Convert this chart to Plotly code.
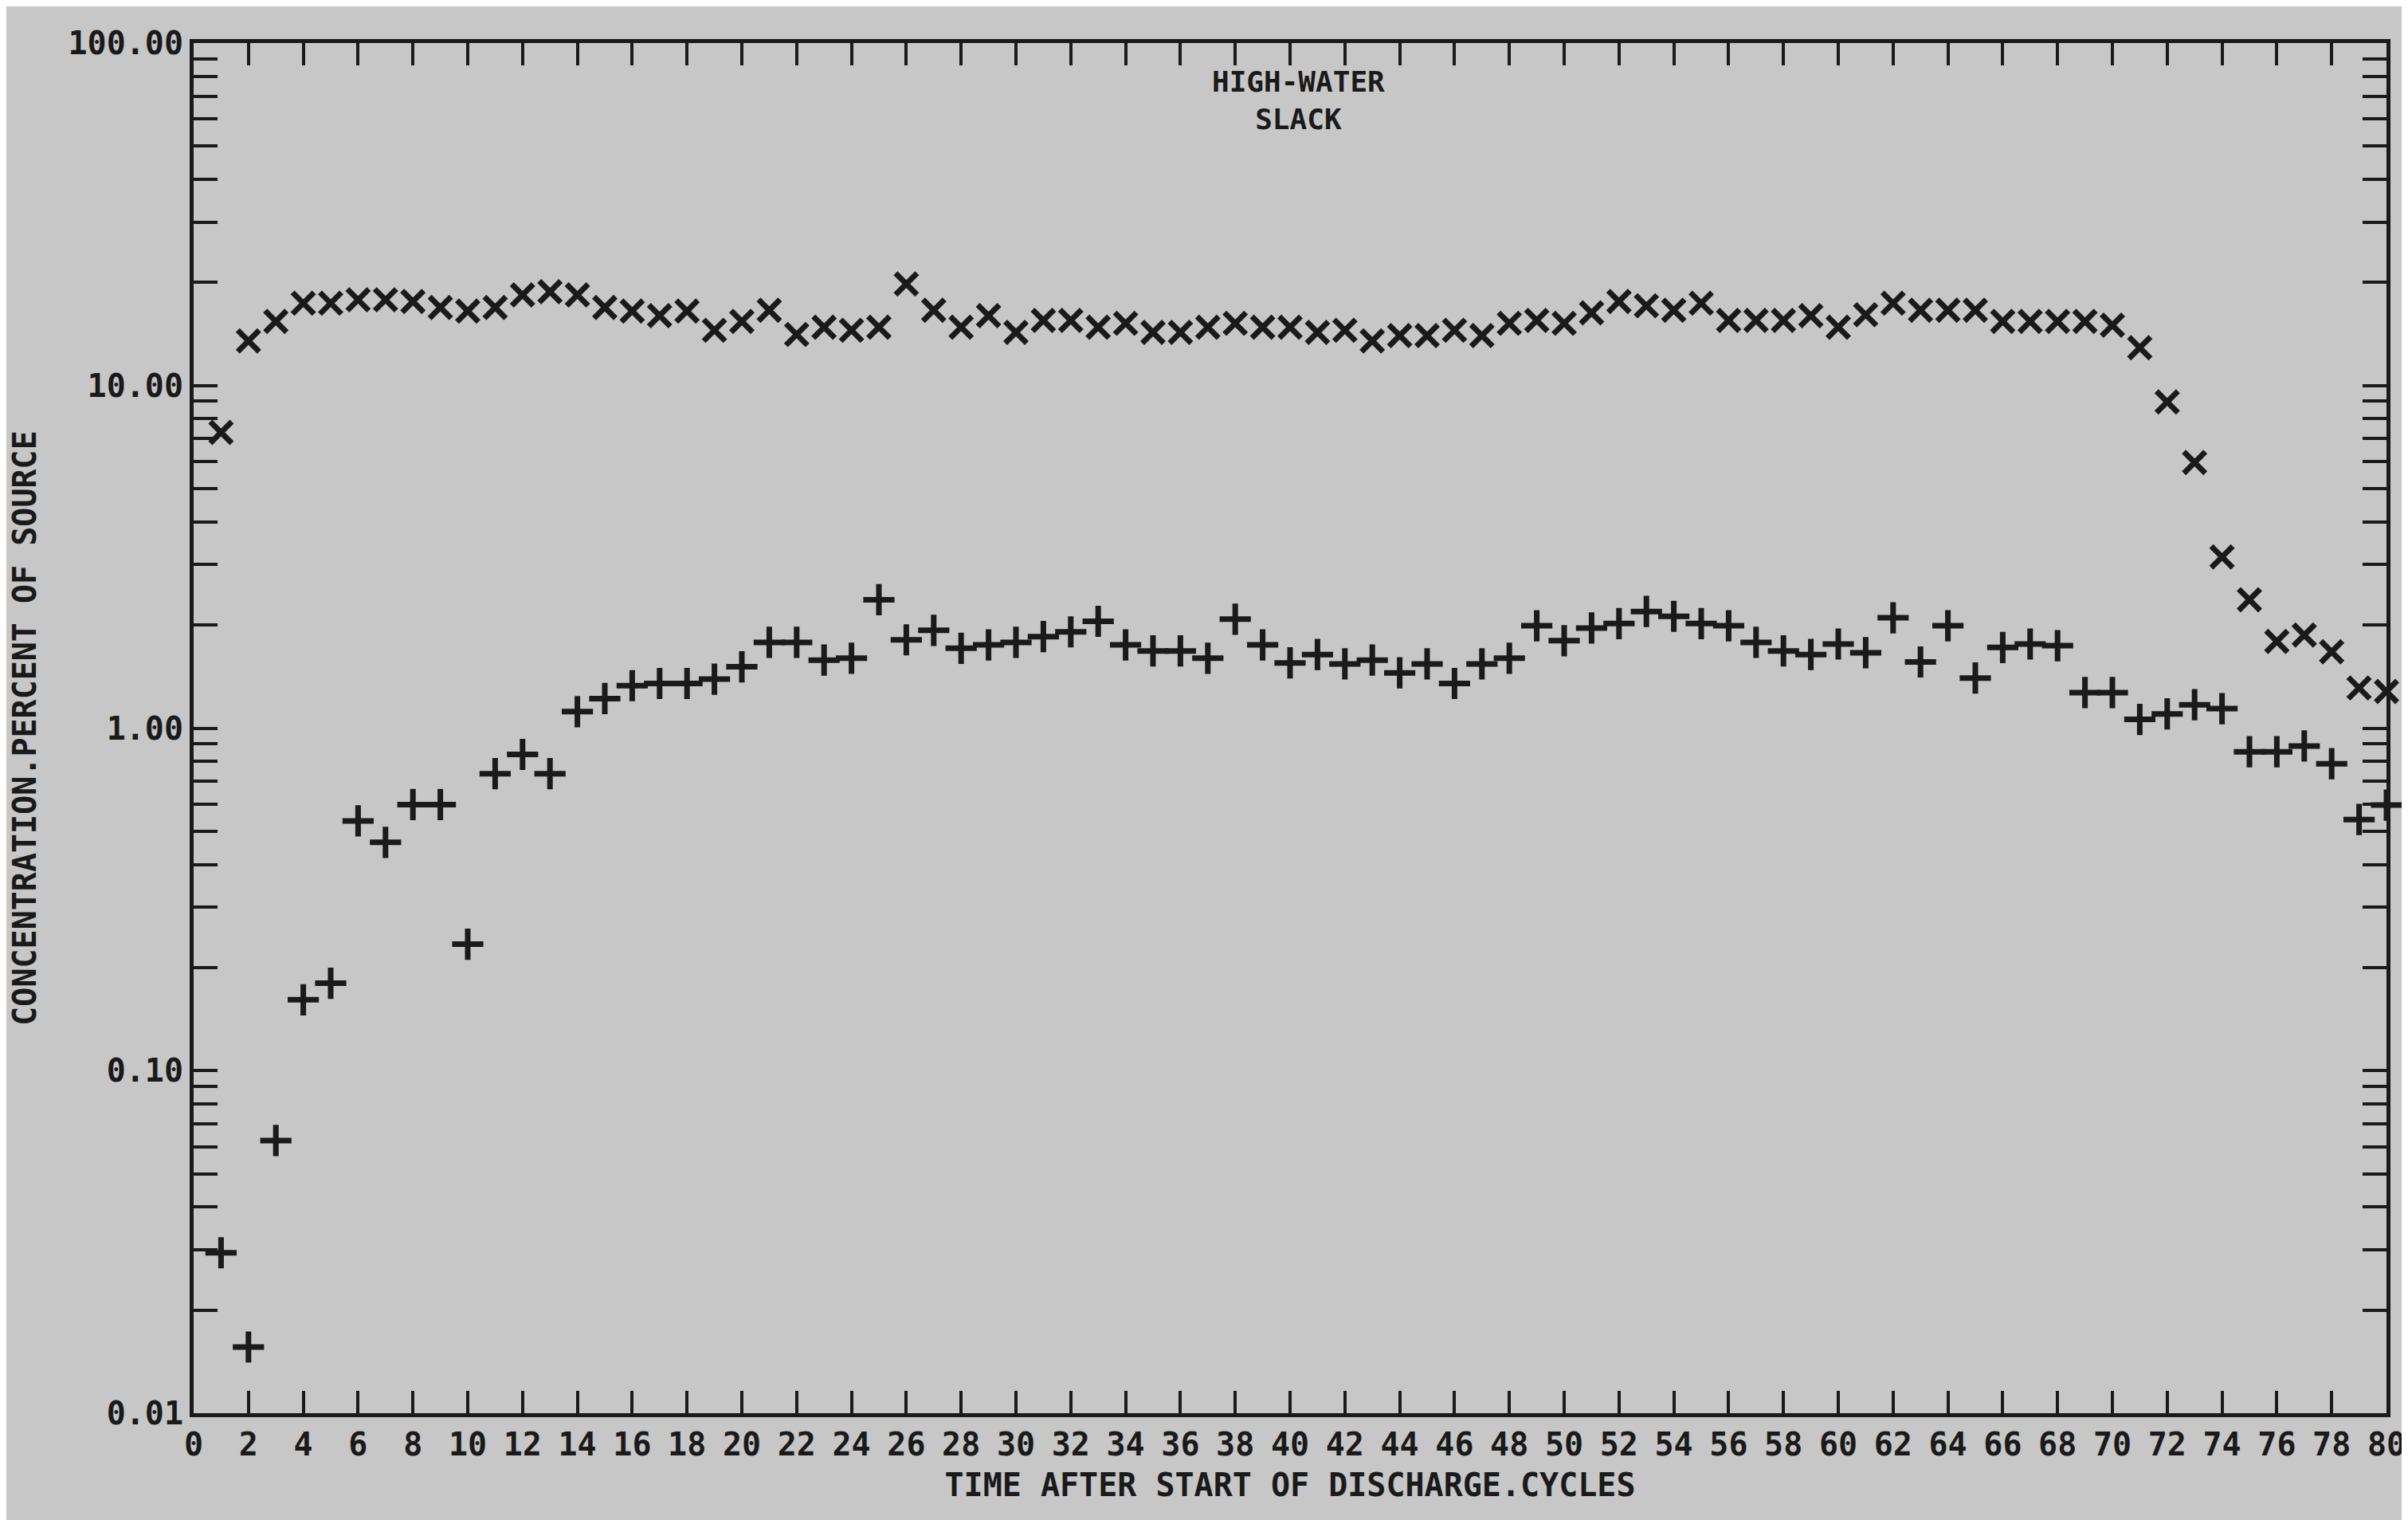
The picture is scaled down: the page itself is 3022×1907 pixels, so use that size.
import plotly.graph_objects as go

# cycle number after start of discharge
cycles = list(range(1, 81))

# upper series (x markers), percent of source
conc_x = [
    7.3, 13.5, 15.4, 17.4, 17.4, 17.8, 17.8, 17.6, 16.9, 16.5,
    16.9, 18.4, 18.8, 18.4, 16.9, 16.5, 16.0, 16.5, 14.5, 15.4,
    16.6, 14.1, 14.8, 14.5, 14.8, 19.8, 16.6, 14.8, 16.0, 14.3,
    15.5, 15.5, 14.8, 15.2, 14.3, 14.3, 14.8, 15.2, 14.8, 14.8,
    14.3, 14.5, 13.5, 14.0, 14.0, 14.5, 14.0, 15.2, 15.5, 15.2,
    16.3, 17.6, 17.1, 16.6, 17.4, 15.5, 15.5, 15.5, 16.0, 14.8,
    16.1, 17.4, 16.6, 16.6, 16.6, 15.4, 15.4, 15.4, 15.4, 15.0,
    12.9, 8.96, 5.96, 3.16, 2.37, 1.79, 1.87, 1.67, 1.31, 1.28,
]

# lower series (+ markers), percent of source
conc_plus = [
    0.0294, 0.0156, 0.0625, 0.161, 0.18, 0.536, 0.464, 0.598, 0.598, 0.234,
    0.736, 0.838, 0.736, 1.117, 1.22, 1.33, 1.35, 1.35, 1.39, 1.51,
    1.78, 1.78, 1.58, 1.60, 2.37, 1.81, 1.93, 1.71, 1.75, 1.78,
    1.85, 1.91, 2.05, 1.75, 1.68, 1.68, 1.60, 2.08, 1.75, 1.55,
    1.64, 1.54, 1.58, 1.45, 1.54, 1.35, 1.54, 1.60, 1.99, 1.80,
    1.96, 2.02, 2.19, 2.12, 2.02, 1.99, 1.78, 1.68, 1.64, 1.76,
    1.66, 2.10, 1.56, 1.99, 1.40, 1.72, 1.76, 1.74, 1.27, 1.27,
    1.06, 1.10, 1.17, 1.14, 0.853, 0.853, 0.887, 0.787, 0.541, 0.596,
]

x_ticks = list(range(0, 81, 2))
decades = [0.01, 0.1, 1.0, 10.0, 100.0]
decade_labels = ["0.01", "0.10", "1.00", "10.00", "100.00"]

# every 1..9 step inside each decade gets a tick, only decades get a label
y_ticks = []
y_text = []
for d, lab in zip(decades[:-1], decade_labels[:-1]):
    for k in range(1, 10):
        y_ticks.append(d * k)
        y_text.append(lab if k == 1 else "")
y_ticks.append(decades[-1])
y_text.append(decade_labels[-1])

ink = "#1a1a1a"
paper = "#c6c7c6"
font_main = dict(family="DejaVu Sans Mono", size=40, color=ink, weight="bold")

fig = go.Figure()

fig.add_trace(go.Scatter(
    x=cycles, y=conc_x, mode="markers",
    marker=dict(symbol="x-thin", size=27, line=dict(width=7, color=ink), color=ink),
    cliponaxis=False, showlegend=False,
))

fig.add_trace(go.Scatter(
    x=cycles, y=conc_plus, mode="markers",
    marker=dict(symbol="cross-thin", size=28, line=dict(width=7, color=ink), color=ink),
    cliponaxis=False, showlegend=False,
))

fig.update_layout(
    width=3022,
    height=1907,
    paper_bgcolor=paper,
    plot_bgcolor=paper,
    font=font_main,
    margin=dict(l=235, r=35, t=46, b=142),
    annotations=[
        dict(text="HIGH-WATER<br>SLACK", x=40.3, xref="x", y=0.985, yref="paper",
             yanchor="top", showarrow=False, align="center",
             font=dict(family="DejaVu Sans Mono", size=36, color=ink, weight="bold")),
    ],
)

fig.update_xaxes(
    range=[0, 80],
    tickvals=x_ticks,
    ticktext=[str(v) for v in x_ticks],
    ticks="inside", ticklen=28, tickwidth=4, tickcolor=ink,
    showline=True, linewidth=5, linecolor=ink, mirror="allticks",
    showgrid=False, zeroline=False,
    tickfont=font_main,
    title=dict(text="TIME AFTER START OF DISCHARGE.CYCLES", font=font_main, standoff=16),
)

fig.update_yaxes(
    type="log",
    range=[-2, 2],
    tickvals=y_ticks,
    ticktext=y_text,
    ticks="inside", ticklen=30, tickwidth=4, tickcolor=ink,
    showline=True, linewidth=5, linecolor=ink, mirror="allticks",
    showgrid=False, zeroline=False,
    tickfont=font_main,
    title=dict(text="CONCENTRATION.PERCENT OF SOURCE", font=font_main, standoff=30),
)

fig.write_html("out.html")
